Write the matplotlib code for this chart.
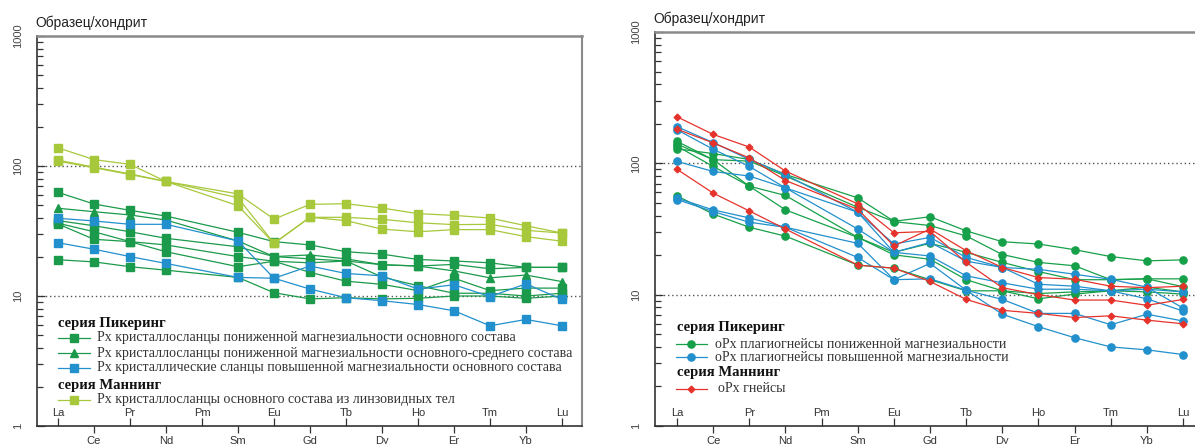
import numpy as np
import matplotlib
matplotlib.use("Agg")
import matplotlib.pyplot as plt
from matplotlib.ticker import LogLocator, NullFormatter, FixedLocator
from matplotlib.transforms import blended_transform_factory

nan = np.nan

# Rare earth elements (chondrite-normalised spider diagram)
elements = ["La", "Ce", "Pr", "Nd", "Pm", "Sm", "Eu", "Gd", "Tb", "Dy",
            "Ho", "Er", "Tm", "Yb", "Lu"]

# ---- Left panel: Px crystalline schists ----
# Pickering series, Px schists of lower Mg#, basic composition
pick_basic = [
    [62.7, 51, 45.6, 41.2, nan, 30.9, 26.2, 24.7, 21.9, 21, 19.1, 18.6, 18, 16.6, 16.6],
    [38, 34.7, 31.2, 27.8, nan, 23.9, 20.1, 19.3, 18.6, 17.4, 17, 17.5, 16.2, 16.6, 16.6],
    [36.3, 31.2, 26.2, 24.7, nan, 20.1, 18.5, 15.2, 13, 12.3, 11, 13.7, 11, 11.5, 11.5],
    [35.8, 27.3, 26.2, 21.9, nan, 16.8, 18.5, 18, 18.6, 14, 12, 10.5, 10.5, 10, 10.5],
    [19, 18.3, 16.8, 15.8, nan, 13.9, 10.6, 9.5, 9.7, 9.5, 9.6, 10, 10, 9.6, 10],
]
# Pickering series, lower Mg#, basic-intermediate composition
pick_inter = [
    [47.3, 44.5, 42, 38.4, nan, 26.5, 20.1, 20.7, 19.3, 17.4, 17, 15.6, 13.8, 14.5, 12.9],
]
# Pickering series, higher Mg#, basic composition
pick_highmg = [
    [39.6, 37.8, 35.6, 35.6, nan, 26.5, 13.7, 17, 14.9, 14.3, 11.3, 12.2, 9.9, 12.4, 9.4],
    [25.7, 22.9, 20.1, 17.8, nan, 13.9, 13.7, 11.3, 9.7, 9.2, 8.6, 7.7, 5.9, 6.6, 5.9],
]
# Manning series, lens-shaped bodies
manning_px = [
    [138, 112, 103, 76, nan, 61, 39, 50.7, 51.3, 47.5, 43, 41.7, 39.8, 34.7, 30.5],
    [111, 98, 87, 76, nan, 57, 25.4, 40.3, 40.3, 38.9, 36.6, 35.4, 35.6, 32, 30.5],
    [109, 97, 86, 76, nan, 49.5, 25.4, 40.3, 38, 32.7, 31.2, 32.4, 32.4, 28.6, 26.4],
]

# ---- Right panel: oPx gneisses ----
opx_low = [
    [129, 118.6, 107, 82.3, nan, 54.6, 36.2, 39.2, 30.6, 25.3, 24.3, 22, 19.5, 18.1, 18.4],
    [140, 106.6, 104, 80, nan, 46.3, 36, 33.6, 28, 20.2, 17.6, 16.6, 13, 13.2, 13.2],
    [147, 106.6, 67, 56.9, nan, 27.3, 20.1, 18.6, 13, 10.7, 9.3, 10.1, 10.7, 11.4, 10.5],
    [56.5, 41.1, 32.6, 27.9, nan, 16.8, 15.9, 13, 10.7, 10.7, 10.2, 10.5, 10.7, 10.5, 10.1],
    [135, 94.7, 67, 44.2, nan, 27.3, 21, 24.6, 21, 17.6, 15, 13, 13, 13.2, 11.5],
]
opx_high = [
    [190, 144, 107, 82, nan, 42.4, 24.3, 27.3, 19.2, 16.1, 15.6, 14.3, 13.1, 11.4, 7.9],
    [180, 128, 94.7, 65, nan, 42.4, 21, 25, 18, 16.1, 12, 11.6, 10.7, 9.3, 7.5],
    [103.5, 86.7, 80, 65, nan, 31.6, 21, 19.7, 13.9, 12.3, 11, 11, 10.7, 11, 10.5],
    [54.3, 44.2, 38.4, 32.6, nan, 19.2, 13, 13.2, 10.8, 7.1, 5.7, 4.7, 4.0, 3.8, 3.5],
    [53, 42.9, 35.6, 32.6, nan, 24.6, 13, 17.3, 10.8, 9.2, 7.2, 7.2, 5.9, 7.1, 6.3],
]
manning_gneiss = [
    [226, 166, 133, 87.3, nan, 49.1, 29.6, 30.3, 17.6, 11.3, 10, 9.1, 9.1, 8.3, 9.2],
    [182, 143, 110, 74, nan, 44.7, 23.5, 31.6, 21.6, 16.1, 13.5, 13.1, 11.6, 11.3, 11.6],
    [90, 59.3, 43.4, 31.6, nan, 16.8, 15.9, 12.6, 9.2, 7.6, 7.2, 6.7, 6.9, 6.4, 6.0],
]

# Legend texts
left_legend = [
    ("head", "серия Пикеринг"),
    ("pb", "Px кристаллосланцы пониженной магнезиальности основного состава"),
    ("pi", "Px кристаллосланцы пониженной магнезиальности основного-среднего состава"),
    ("ph", "Px кристаллические сланцы повышенной магнезиальности основного состава"),
    ("head", "серия Маннинг"),
    ("mp", "Px кристаллосланцы основного состава из линзовидных тел"),
]
right_legend = [
    ("head", "серия Пикеринг"),
    ("ol", "oPx плагиогнейсы пониженной магнезиальности"),
    ("oh", "oPx плагиогнейсы повышенной магнезиальности"),
    ("head", "серия Маннинг"),
    ("mg", "oPx гнейсы"),
]
y_title = "Образец/хондрит"

DKGREEN = "#1b9a4b"
BLUE = "#2290cc"
LTGREEN = "#a8c83c"
GREEN = "#17a04a"
RED = "#e5332c"

styles = {
    "pb": dict(color=DKGREEN, marker="s", ms=5.2),
    "pi": dict(color=DKGREEN, marker="^", ms=6),
    "ph": dict(color=BLUE, marker="s", ms=5.2),
    "mp": dict(color=LTGREEN, marker="s", ms=5.2),
    "ol": dict(color=GREEN, marker="o", ms=5.2),
    "oh": dict(color=BLUE, marker="o", ms=5.2),
    "mg": dict(color=RED, marker="D", ms=3.4),
}

plt.rcParams["font.family"] = ["Liberation Sans", "DejaVu Sans"]

fig = plt.figure(figsize=(11.95, 4.44), dpi=100)
W, H = 1195, 444
axL = fig.add_axes([37 / W, 1 - 426 / H, (582 - 37) / W, (426 - 36) / H])
axR = fig.add_axes([655 / W, 1 - 426 / H, (1195 - 655) / W, (426 - 32) / H])

x = np.arange(len(elements))


def draw_series(ax, rows, key):
    st = styles[key]
    for row in rows:
        y = np.array(row, dtype=float)
        ok = ~np.isnan(y)
        ax.plot(x[ok], y[ok], color=st["color"], lw=0.9, marker=st["marker"],
                ms=st["ms"], mec=st["color"], mfc=st["color"], zorder=3)


def style_axes(ax, xlim):
    ax.set_yscale("log")
    ax.set_ylim(1, 1000)
    ax.set_xlim(*xlim)
    for v in (10, 100):
        ax.axhline(v, color="#555", lw=1.0, ls=(0, (1, 2)), zorder=1)
    ax.spines["left"].set_color("#333")
    ax.spines["bottom"].set_color("#333")
    ax.spines["left"].set_linewidth(1.2)
    ax.spines["bottom"].set_linewidth(1.2)
    ax.spines["top"].set_color("#8a8a8a")
    ax.spines["top"].set_linewidth(1.8)
    ax.spines["right"].set_color("#8a8a8a")
    ax.spines["right"].set_linewidth(1.5)

    ax.yaxis.set_major_locator(FixedLocator([1, 10, 100, 1000]))
    ax.yaxis.set_minor_locator(LogLocator(base=10, subs=np.arange(2, 10)))
    ax.yaxis.set_minor_formatter(NullFormatter())
    ax.set_yticklabels(["1", "10", "100", "1000"], rotation=90, va="center",
                       fontsize=8, color="#444")
    ax.tick_params(axis="y", which="major", direction="in", length=6,
                   width=0.9, color="#333", pad=10)
    ax.tick_params(axis="y", which="minor", direction="in", length=4.5,
                   width=0.9, color="#333")

    even = x[::2]
    odd = x[1::2]
    ax.set_xticks(even)
    ax.set_xticks(odd, minor=True)
    ax.set_xticklabels([])
    ax.tick_params(axis="x", which="major", direction="in", length=5.5,
                   width=0.9, color="#333", labelbottom=False)
    ax.tick_params(axis="x", which="minor", direction="out", length=5,
                   width=0.9, color="#333", labelbottom=False)
    tr = blended_transform_factory(ax.transData, ax.transAxes)
    for i, name in enumerate(elements):
        if i % 2 == 0:
            ax.text(i, 0.034, name, transform=tr, ha="center", va="center",
                    fontsize=8, color="#333")
        else:
            ax.text(i, -0.026, name, transform=tr, ha="center", va="top",
                    fontsize=8, color="#333", clip_on=False)


def draw_legend(ax, entries, x0, xh0, xh1, xt, ys, extra_indent=None):
    for (key, label), yy in zip(entries, ys):
        if key == "head":
            ax.text(x0, yy, label, transform=ax.transAxes, ha="left",
                    va="center", fontsize=10.5, fontweight="bold",
                    family=["Liberation Serif", "DejaVu Serif"], color="#111")
        else:
            st = styles[key]
            ax.plot([xh0, xh1], [yy, yy], transform=ax.transAxes,
                    color=st["color"], lw=0.9, clip_on=False)
            ax.plot([(xh0 + xh1) / 2], [yy], transform=ax.transAxes,
                    color=st["color"], marker=st["marker"], ms=st["ms"],
                    clip_on=False)
            xx = xt
            if extra_indent and key in extra_indent:
                xx = xt + extra_indent[key]
            ax.text(xx, yy, label, transform=ax.transAxes, ha="left",
                    va="center", fontsize=10,
                    family=["Liberation Serif", "DejaVu Serif"], color="#333")


# Left panel
style_axes(axL, (-0.583, 14.556))
draw_series(axL, pick_basic, "pb")
draw_series(axL, pick_inter, "pi")
draw_series(axL, pick_highmg, "ph")
draw_series(axL, manning_px, "mp")
draw_legend(axL, left_legend, 0.0385, 0.0385, 0.097, 0.110,
            [0.264, 0.226, 0.187, 0.149, 0.105, 0.067])
fig.text(35 / W, 1 - 23 / H, y_title, ha="left", va="center", fontsize=10,
         color="#222")

# Right panel
style_axes(axR, (-0.61, 14.33))
axR.spines["right"].set_visible(False)
draw_series(axR, opx_low, "ol")
draw_series(axR, opx_high, "oh")
draw_series(axR, manning_gneiss, "mg")
draw_legend(axR, right_legend, 0.041, 0.039, 0.096, 0.111,
            [0.249, 0.208, 0.175, 0.135, 0.094], extra_indent={"mg": 0.006})
fig.text(653 / W, 1 - 19 / H, y_title, ha="left", va="center", fontsize=10,
         color="#222")

fig.savefig("out.png", dpi=100)
